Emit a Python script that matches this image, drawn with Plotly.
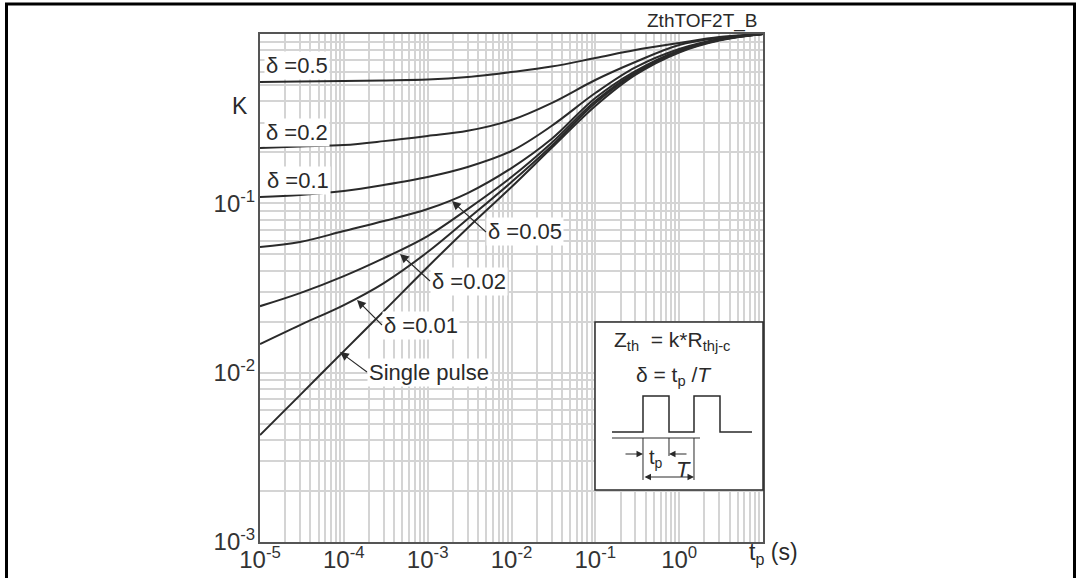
import plotly.graph_objects as go

# pulse duration tp (s)
tp = [1e-5, 3e-5, 1e-4, 3e-4, 1e-3, 3e-3, 1e-2, 3e-2, 1e-1, 3e-1, 1, 3, 10]

# K = Zth / Rthj-c
k_d050 = [0.520, 0.524, 0.528, 0.532, 0.538, 0.557, 0.596, 0.642, 0.721, 0.804, 0.885, 0.960, 1.0]
k_d020 = [0.212, 0.2165, 0.221, 0.233, 0.250, 0.268, 0.3105, 0.391, 0.535, 0.683, 0.861, 0.947, 1.0]
k_d010 = [0.1089, 0.1119, 0.1182, 0.1283, 0.143, 0.1638, 0.2037, 0.2861, 0.448, 0.635, 0.815, 0.934, 1.0]
k_d005 = [0.0552, 0.0591, 0.0686, 0.0786, 0.0925, 0.115, 0.1616, 0.2398, 0.4188, 0.604, 0.801, 0.928, 1.0]
k_d002 = [0.0247, 0.0295, 0.0372, 0.0475, 0.0641, 0.0925, 0.143, 0.2271, 0.4019, 0.592, 0.791, 0.922, 1.0]
k_d001 = [0.01476, 0.01911, 0.02508, 0.03383, 0.05157, 0.08078, 0.1336, 0.2181, 0.3912, 0.584, 0.785, 0.920, 1.0]
k_single = [0.00428, 0.00737, 0.0134, 0.0231, 0.0421, 0.0715, 0.1249, 0.212, 0.3756, 0.573, 0.778, 0.915, 1.0]

x_ticks = [1e-5, 1e-4, 1e-3, 1e-2, 1e-1, 1e0]
x_ticktext = ["10<sup>-5</sup>", "10<sup>-4</sup>", "10<sup>-3</sup>", "10<sup>-2</sup>",
              "10<sup>-1</sup>", "10<sup>0</sup>"]
y_ticks = [1e-3, 1e-2, 1e-1]
y_ticktext = ["10<sup>-3</sup>", "10<sup>-2</sup>", "10<sup>-1</sup>"]

FONT = "Liberation Sans, Arial, sans-serif"
INK = "#2a2a2a"
GRID = "#d4d4d4"

# plot area in pixels (used for placing decorations)
L, R, T, B = 260, 763, 34, 542


def px(x):
    return (x - L) / (R - L)


def py(y):
    return (B - y) / (B - T)


fig = go.Figure()
for k in [k_d050, k_d020, k_d010, k_d005, k_d002, k_d001, k_single]:
    fig.add_trace(go.Scatter(
        x=tp, y=k, mode="lines",
        line=dict(color=INK, width=2, shape="spline", smoothing=1.0),
        hoverinfo="skip", showlegend=False,
    ))

fig.update_layout(
    width=1080, height=578,
    margin=dict(l=L, r=1080 - R, t=T, b=578 - B),
    paper_bgcolor="white", plot_bgcolor="white",
    font=dict(family=FONT, color=INK, size=22),
)
axis_style = dict(
    type="log", ticks="", ticklen=0, tickmode="array", automargin=False,
    tickfont=dict(size=24, color="#333"),
    showgrid=True, gridcolor=GRID, gridwidth=1.5,
    minor=dict(dtick="D1", showgrid=True, gridcolor=GRID, gridwidth=1.5, ticks=""),
    showline=True, linecolor="#555", linewidth=2, mirror=True, zeroline=False,
)
fig.update_xaxes(range=[-5, 1], tickvals=x_ticks, ticktext=x_ticktext,
                 ticklabelstandoff=-5, **axis_style)
fig.update_yaxes(range=[-3, 0], tickvals=y_ticks, ticktext=y_ticktext,
                 ticklabelstandoff=-2, **axis_style)

ann = []


def label(text, x, y, size=22, bg="white", xanchor="center"):
    ann.append(dict(text=text, x=px(x), y=py(y), xref="paper", yref="paper",
                    showarrow=False, xanchor=xanchor, yanchor="middle",
                    font=dict(size=size, color=INK), bgcolor=bg, borderpad=1))


def pointer(text, tipx, tipy, tailx, taily):
    # label whose left edge sits on the arrow tail
    ann.append(dict(text=text, x=px(tipx), y=py(tipy), xref="paper", yref="paper",
                    ax=tailx - tipx, ay=taily - tipy, showarrow=True,
                    xanchor="left", yanchor="middle",
                    arrowhead=2, arrowsize=1.6, arrowwidth=1.1, arrowcolor=INK,
                    font=dict(size=22, color=INK), bgcolor="white", borderpad=1))


def arrow(tipx, tipy, tailx, taily, both=False):
    ann.append(dict(text="", x=px(tipx), y=py(tipy), xref="paper", yref="paper",
                    ax=tailx - tipx, ay=taily - tipy, showarrow=True,
                    arrowhead=2, arrowsize=1.3, arrowwidth=1, arrowcolor=INK,
                    arrowside="end+start" if both else "end", startarrowhead=2,
                    startarrowsize=1.3))


label("\u03b4 =0.5", 297, 65)
label("\u03b4 =0.2", 297, 132)
label("\u03b4 =0.1", 298, 180)
pointer("\u03b4 =0.05", 452, 201, 486, 232)
pointer("\u03b4 =0.02", 400, 254, 430, 281)
pointer("\u03b4 =0.01", 357, 300, 382, 325)
pointer("Single pulse", 340, 352, 367, 372)

label("K", 240, 106, size=23, bg=None)
label("ZthTOF2T_B", 760, 21, size=19, bg=None, xanchor="right")
label("t<sub>p</sub> (s)", 773, 553, size=23, bg=None)

# inset with the definition of delta
label("Z<sub>th</sub>  = k*R<sub>thj-c</sub>", 672, 341, size=21, bg=None)
label("\u03b4 = t<sub>p</sub> /<i>T</i>", 674, 376, size=21, bg=None)
label("t<sub>p</sub>", 656, 458, size=20, bg=None)
label("<i>T</i>", 683, 469, size=22, bg=None)
arrow(643, 454, 624, 454)
arrow(669, 454, 688, 454)
arrow(694, 477, 643, 477, both=True)

fig.update_layout(annotations=ann)


def path(points):
    return "M " + " L ".join(f"{px(a):.5f},{py(b):.5f}" for a, b in points)


def line(points, width=1):
    return dict(type="path", xref="paper", yref="paper",
                line=dict(color=INK, width=width), path=path(points))


shapes = [
    dict(type="rect", xref="paper", yref="paper", x0=px(595), y0=py(490),
         x1=px(763), y1=py(322), fillcolor="white", line=dict(color=INK, width=1.5)),
    line([(612, 432), (643, 432), (643, 396), (669, 396), (669, 432),
          (694, 432), (694, 396), (720, 396), (720, 432), (752, 432)], 1.5),
    line([(612, 438), (700, 438)]),
    line([(643, 438), (643, 480)]),
    line([(694, 438), (694, 480)]),
    line([(669, 438), (669, 456)]),
    # outer frame (bottom edge lies below the picture)
    dict(type="path", xref="paper", yref="paper", line=dict(color="black", width=3),
         path=path([(6.5, 578), (6.5, 4), (1074.5, 4), (1074.5, 578)])),
]
fig.update_layout(shapes=shapes)

fig.write_html("out.html", config={"displayModeBar": False},
               post_script="document.body.style.margin='0px';")
